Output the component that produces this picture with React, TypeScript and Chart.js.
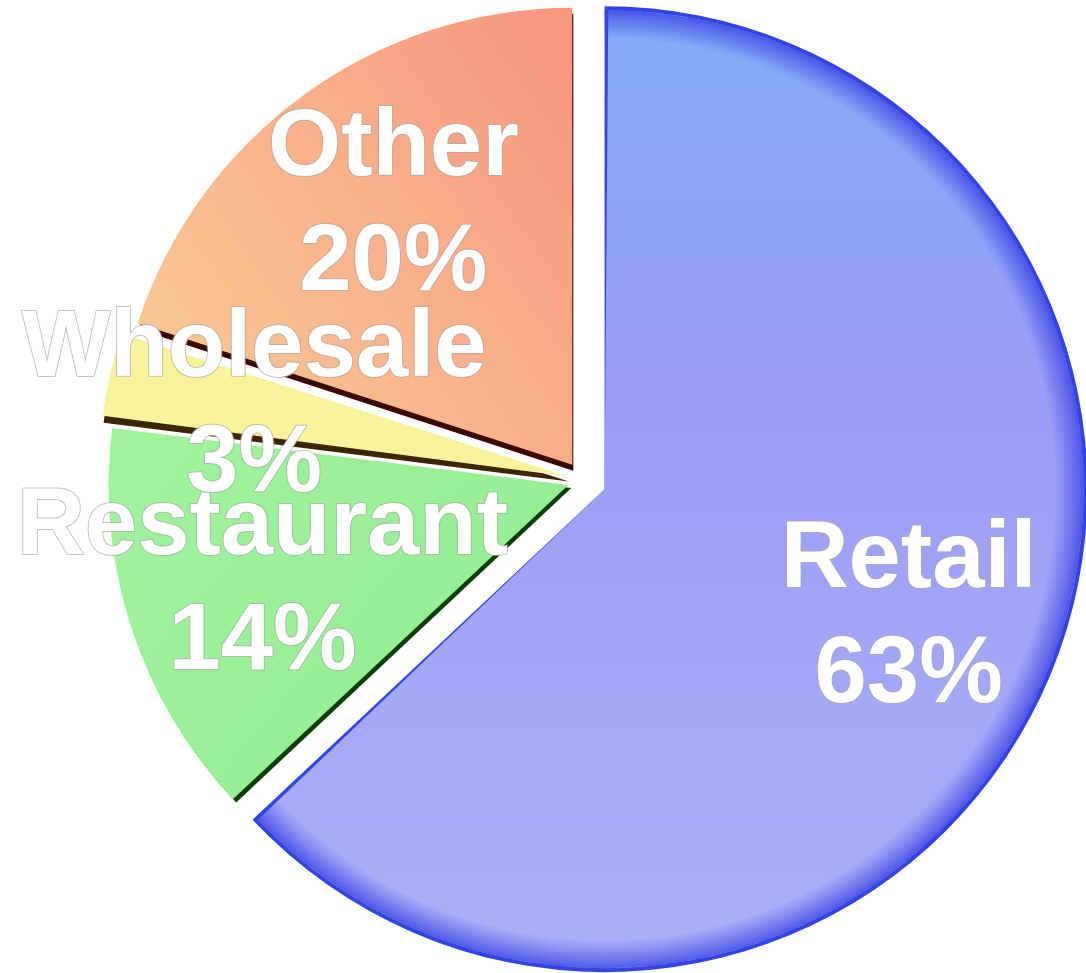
import React, { useEffect, useRef } from 'react';
import { Chart, registerables } from 'chart.js';

Chart.register(...registerables);

// ---- data ----
const categories = ['Retail', 'Restaurant', 'Wholesale', 'Other'];
const shares = [63, 14, 3, 20];
const percentLabels = ['63%', '14%', '3%', '20%'];
const sliceOffsets = [92, 64, 64, 76];

// ---- styles ----
const shadowColors = ['#3444e4', '#0c3e0c', '#3d2500', '#3a0900'];
const shadowShift: [number, number, number][] = [
  [0, 0, 4],
  [3, 3, 0],
  [1, 5, 0],
  [1, 6, 0],
];
const labelNudgeX = [9, 0, 0, 10];

function arcGeom(arc: any) {
  const p = arc.getProps(['x', 'y', 'startAngle', 'endAngle', 'outerRadius', 'circumference'], true);
  const off = (arc.options.offset || 0) / 4;
  const mid = (p.startAngle + p.endAngle) / 2;
  const fix = 1 - Math.sin(Math.min(Math.PI, p.circumference));
  return {
    cx: p.x + Math.cos(mid) * off,
    cy: p.y + Math.sin(mid) * off,
    r: p.outerRadius + off * fix,
    base: p.outerRadius,
    s: p.startAngle,
    e: p.endAngle,
    mid,
  };
}

function fillFor(ctx: any) {
  const chart = ctx.chart;
  const c: CanvasRenderingContext2D = chart.ctx;
  const a = chart.chartArea;
  const i = ctx.dataIndex;
  if (!a) return '#aaaaaa';
  const w = a.right - a.left;
  const h = a.bottom - a.top;
  if (i === 0) {
    const g = c.createLinearGradient(0, a.top, 0, a.bottom);
    g.addColorStop(0, '#84acf8');
    g.addColorStop(0.4, '#9a9cf6');
    g.addColorStop(1, '#acb2f8');
    return g;
  }
  if (i === 3) {
    const g = c.createLinearGradient(a.left + w * 0.05, a.top + h * 0.34, a.left + w * 0.49, a.top + h * 0.02);
    g.addColorStop(0, '#f8c894');
    g.addColorStop(1, '#f8967f');
    return g;
  }
  if (i === 2) return '#f8f29c';
  const g = c.createLinearGradient(a.left, a.top + h * 0.45, a.left + w * 0.45, a.top + h * 0.85);
  g.addColorStop(0, '#a4f2a0');
  g.addColorStop(1, '#90ec90');
  return g;
}

const shadowPlugin = {
  id: 'sliceShadow',
  beforeDatasetsDraw(chart: any) {
    const ctx: CanvasRenderingContext2D = chart.ctx;
    const meta = chart.getDatasetMeta(0);
    meta.data.forEach((arc: any, i: number) => {
      const g = arcGeom(arc);
      const [dx, dy, extra] = shadowShift[i];
      ctx.save();
      ctx.fillStyle = shadowColors[i];
      ctx.beginPath();
      ctx.moveTo(g.cx + dx, g.cy + dy);
      ctx.arc(g.cx + dx, g.cy + dy, g.r + extra, g.s, g.e);
      ctx.closePath();
      ctx.fill();
      ctx.restore();
    });
  },
  afterDatasetsDraw(chart: any) {
    const ctx: CanvasRenderingContext2D = chart.ctx;
    const arc = chart.getDatasetMeta(0).data[0];
    const g = arcGeom(arc);
    const rg = ctx.createRadialGradient(g.cx, g.cy, g.r * 0.94, g.cx, g.cy, g.r);
    rg.addColorStop(0, 'rgba(60,70,230,0)');
    rg.addColorStop(1, 'rgba(50,60,225,0.75)');
    ctx.save();
    ctx.fillStyle = rg;
    ctx.beginPath();
    ctx.moveTo(g.cx, g.cy);
    ctx.arc(g.cx, g.cy, g.r, g.s, g.e);
    ctx.closePath();
    ctx.fill();
    ctx.restore();
  },
};

const labelPlugin = {
  id: 'sliceLabels',
  afterDraw(chart: any) {
    const ctx: CanvasRenderingContext2D = chart.ctx;
    const meta = chart.getDatasetMeta(0);
    const labels = chart.data.labels as string[];
    ctx.save();
    ctx.font = 'bold 94px "Liberation Sans", Arial, sans-serif';
    ctx.textAlign = 'center';
    ctx.textBaseline = 'alphabetic';
    ctx.lineJoin = 'round';
    meta.data.forEach((arc: any, i: number) => {
      const g = arcGeom(arc);
      const lx = g.cx + Math.cos(g.mid) * g.base * 0.705 + labelNudgeX[i];
      const ly = g.cy + Math.sin(g.mid) * g.base * 0.705;
      const lines = [labels[i], percentLabels[i]];
      const baselines = [ly - 30, ly + 85];
      lines.forEach((t, k) => {
        ctx.lineWidth = 2;
        ctx.strokeStyle = 'rgba(170,170,170,0.7)';
        ctx.strokeText(t, lx, baselines[k]);
        ctx.fillStyle = '#ffffff';
        ctx.fillText(t, lx, baselines[k]);
      });
    });
    ctx.restore();
  },
};

export default function App() {
  const ref = useRef<HTMLCanvasElement>(null);
  useEffect(() => {
    document.body.style.margin = '0';
    const chart = new Chart(ref.current as HTMLCanvasElement, {
      type: 'pie',
      data: {
        labels: categories,
        datasets: [
          {
            data: shares,
            backgroundColor: fillFor as any,
            borderWidth: 0,
            offset: sliceOffsets,
            hoverOffset: 0,
            radius: 456,
            clip: false as any,
          } as any,
        ],
      },
      options: {
        responsive: false,
        animation: false,
        events: [],
        layout: { padding: { left: 81, right: 0, top: 0, bottom: 13 } },
        plugins: { legend: { display: false }, tooltip: { enabled: false } },
      },
      plugins: [shadowPlugin, labelPlugin],
    });
    return () => chart.destroy();
  }, []);
  return <canvas ref={ref} width={1086} height={973} style={{ display: 'block' }} />;
}
